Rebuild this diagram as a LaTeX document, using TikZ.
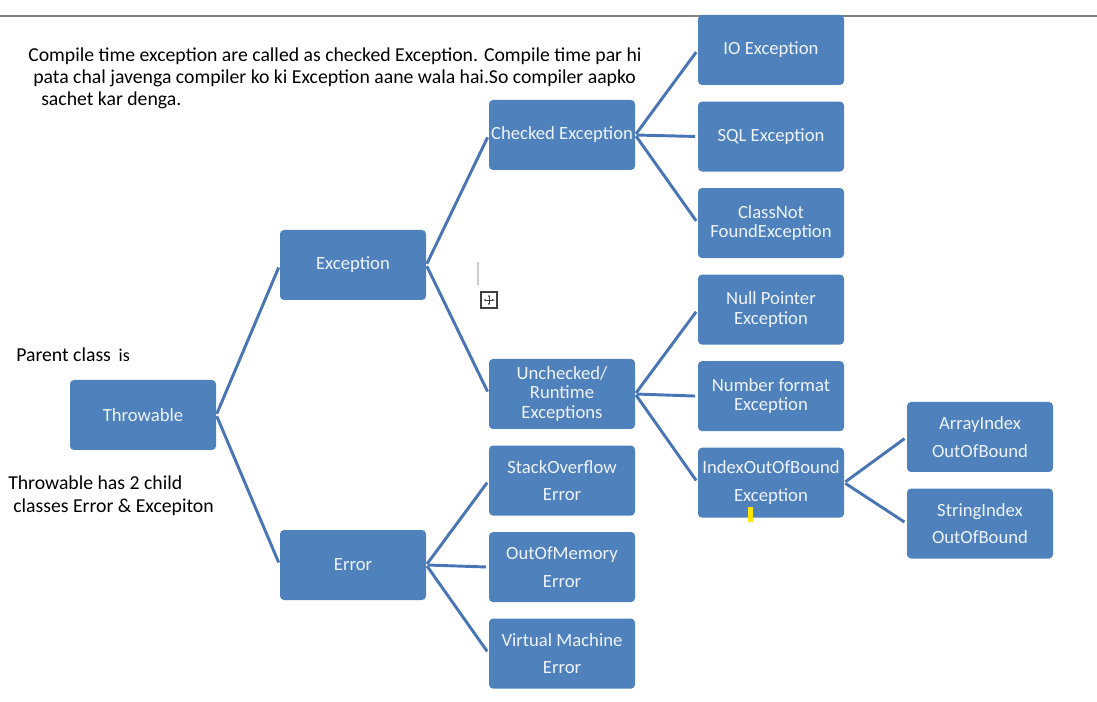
\documentclass[tikz,border=0pt]{standalone}
\usepackage{fontspec}
\setmainfont{Carlito}
\usetikzlibrary{positioning}
\usetikzlibrary{arrows.meta}
\definecolor{boxblue}{HTML}{4F81BD}
\definecolor{lineblue}{HTML}{4A75B5}
\definecolor{boxtext}{HTML}{EEF3FA}

\begin{document}
\begin{tikzpicture}[
    x=0.75pt, y=-0.75pt,
    node distance=12pt,
    box/.style={rectangle, rounded corners=3pt, fill=boxblue, text=boxtext, minimum width=109.5pt, minimum height=52.5pt, align=center, inner sep=1pt, font=\fontsize{14}{14.75}\selectfont},
    link/.style={draw=lineblue, line width=2.2pt, shorten <=1pt, shorten >=2pt},
    note/.style={inner sep=0pt, anchor=west, align=left, font=\fontsize{14.8}{17.25}\selectfont}
]
\useasboundingbox (0,0) rectangle (1097,702);

% Top rule
\draw[gray, line width=1.2pt] (0,16) -- (1097,16);

% Nodes
\node[box] (throwable) at (143,415) {Throwable};
\node[box] (exception) at (353,265) {Exception};
\node[box] (error) at (353,565) {Error};

\node[box] (checked) at (562,135) {Checked Exception};
\node[box] (unchecked) at (562,394) {Unchecked/\\Runtime\\Exceptions};
\node[box, below=of unchecked] (stack) {StackOverflow\\[6pt]Error};
\node[box, below=of stack] (memory) {OutOfMemory\\[6pt]Error};
\node[box, below=of memory] (vm) {Virtual Machine\\[6pt]Error};

\node[box] (io) at (771,50) {IO Exception};
\node[box, below=of io] (sql) {SQL Exception};
\node[box, below=of sql] (classnot) {ClassNot\\FoundException};
\node[box, below=of classnot] (nullptr) {Null Pointer\\Exception};
\node[box, below=of nullptr] (numfmt) {Number format\\Exception};
\node[box, below=of numfmt] (index) {IndexOutOfBound\\[6pt]Exception};

\node[box] (arrayidx) at (980,437) {ArrayIndex\\[6pt]OutOfBound};
\node[box, below=of arrayidx] (stringidx) {StringIndex\\[6pt]OutOfBound};

% Connectors
\foreach \from/\to in {throwable/exception, throwable/error,
    exception/checked, exception/unchecked,
    error/stack, error/memory, error/vm,
    checked/io, checked/sql, checked/classnot,
    unchecked/nullptr, unchecked/numfmt, unchecked/index,
    index/arrayidx, index/stringidx}
    \draw[link] (\from.east) -- (\to.west);

% Notes
\node[note, anchor=north west, font=\fontsize{14.8}{16.5}\selectfont] (compile) at (28,48) {Compile time exception are called as checked Exception. Compile time par hi\\
    \hspace*{3.75pt}pata chal javenga compiler ko ki Exception aane wala hai.So compiler aapko\\
    \hspace*{9.75pt}sachet kar denga.};
\node[note] (parent) at (16,355) {Parent class \,{\fontsize{13.5}{15}\selectfont is}};
\node[note] (child) at (8,496) {Throwable has 2 child\\\hspace*{3.75pt}classes Error \& Excepiton};

% Screen marks
\draw[gray!40, line width=1.5pt] (478,262) -- (478,285);
\draw[darkgray, line width=1pt] (481,292) rectangle (497,308);
\draw[darkgray, line width=0.6pt, {Stealth[length=2pt]}-{Stealth[length=2pt]}] (483.5,300) -- (494.5,300);
\draw[darkgray, line width=0.6pt, {Stealth[length=2pt]}-{Stealth[length=2pt]}] (489,294.5) -- (489,305.5);
\fill[yellow!90!orange] (748,507) rectangle (753,522);

\end{tikzpicture}
\end{document}
